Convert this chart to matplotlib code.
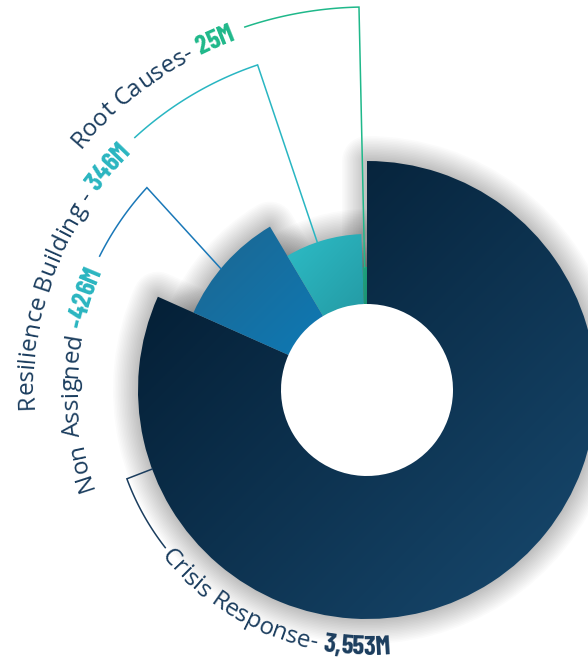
import numpy as np
import matplotlib
matplotlib.use('Agg')
import matplotlib.pyplot as plt
import matplotlib.font_manager as fm
from matplotlib.patches import Wedge, Circle
from matplotlib.colors import LinearSegmentedColormap
from matplotlib.font_manager import FontProperties

# data
categories = ['Crisis Response', 'Non Assigned', 'Resilience Building', 'Root Causes']
values = [3553, 426, 346, 25]
value_prefix = ['', '-', '', '']
name_sep = ['- ', ' ', ' - ', '- ']

# style / layout
outer_r = [229, 190, 156, 123]
inner_r = 86
W, H = 588, 661
cx, cy = 367, H - 390
grad_colors = [('#01182c', '#184a70'), ('#1d6690', '#0e79b4'),
               ('#2dbcc6', '#249aa4'), ('#20a580', '#1a8f70')]
line_colors = ['#1b3d5e', '#1a78b8', '#29b6c2', '#1fb88a']
value_colors = ['#1b3d5e', '#2ab5c0', '#2ab5c0', '#1fb88a']
name_color = '#1b3d5e'
# leader: (angle at segment, angle at elbow, arc radius, arc end angle), angles ccw from top
leaders = [(110.2, 110.3, 256, 128.0),
           (50.3, 47.4, 299, 63.4),
           (18.6, 18.6, 343, 42.6),
           (1.1, 1.2, 383, 18.6)]

name_fp = FontProperties(family='Open Sans', size=17.5)

# condensed bold face for the amounts
barlow = [f for f in fm.fontManager.ttflist
          if f.fname.endswith('BarlowCondensed-Bold.ttf')]
if barlow:
    value_fp = FontProperties(fname=barlow[0].fname, size=19.5)
else:
    value_fp = FontProperties(family='DejaVu Sans', weight='bold', size=14)

fig = plt.figure(figsize=(W / 100, H / 100), dpi=100)
ax = fig.add_axes([0, 0, 1, 1])
renderer = fig.canvas.get_renderer()


def polar(b, r):
    t = np.radians(90 + np.asarray(b))
    return cx + r * np.cos(t), cy + r * np.sin(t)


# angles of the segments, drawn clockwise from 12 o'clock
total = sum(values)
ends = np.cumsum(values) / total * 360
starts = np.concatenate([[0], ends[:-1]])

# soft shadow
for lw in np.linspace(2, 36, 16):
    for i in range(len(values)):
        ax.add_patch(Wedge((cx, cy), outer_r[i], 90 - ends[i], 90 - starts[i],
                           facecolor='none', edgecolor='k', lw=lw, alpha=0.015,
                           joinstyle='round', zorder=1))
ax.add_patch(Circle((cx, cy), inner_r, color='white', zorder=1.5))

for i in range(len(values)):
    w = Wedge((cx, cy), outer_r[i], 90 - ends[i], 90 - starts[i],
              width=outer_r[i] - inner_r, facecolor='none', edgecolor='none', zorder=3)
    ax.add_patch(w)
    ext = w.get_path().get_extents()
    g = np.linspace(0, 1, 200)
    t = (g[None, :] + g[:, None]) / 2
    cmap = LinearSegmentedColormap.from_list('g%d' % i, grad_colors[i])
    im = ax.imshow(t, cmap=cmap, extent=[ext.x0, ext.x1, ext.y0, ext.y1],
                   origin='upper', zorder=3, interpolation='bilinear')
    im.set_clip_path(w)


def text_w(s, fp):
    a = renderer.get_text_width_height_descent('|' + s + '|', fp, ismath=False)[0]
    b = renderer.get_text_width_height_descent('||', fp, ismath=False)[0]
    return a - b


def arc_text(pieces, r_mid, b_anchor, outward):
    em = name_fp.get_size_in_points() * 100 / 72
    chars = []
    off = 0
    for s, fp, col in pieces:
        for k, ch in enumerate(s):
            c = off + (text_w(s[:k], fp) + text_w(s[:k + 1], fp)) / 2
            if ch != ' ':
                chars.append((ch, c, fp, col))
        off += text_w(s, fp)
    if outward:
        rb = r_mid - 0.36 * em
        b0 = b_anchor + np.degrees(off / rb)
    else:
        rb = r_mid + 0.36 * em
        b0 = b_anchor
    for ch, c, fp, col in chars:
        if outward:
            b = b0 - np.degrees(c / rb)
            rot = b
        else:
            b = b0 + np.degrees(c / rb)
            rot = b + 180
        x, y = polar(b, rb)
        ax.text(x, y, ch, fontproperties=fp, color=col, rotation=rot,
                rotation_mode='anchor', ha='center', va='baseline', zorder=5)


for i, cat in enumerate(categories):
    b_seg, b_elb, r_arc, b_end = leaders[i]
    arc_b = np.linspace(b_elb, b_end, 60)
    xs, ys = polar(arc_b, r_arc)
    x0, y0 = polar(b_seg, outer_r[i])
    ax.plot(np.concatenate([[x0], xs]), np.concatenate([[y0], ys]),
            color=line_colors[i], lw=1.1, zorder=4, solid_joinstyle='miter')
    pieces = [(cat + name_sep[i], name_fp, name_color),
              (value_prefix[i] + f'{values[i]:,}M', value_fp, value_colors[i])]
    if b_end > 100:
        arc_text(pieces, r_arc, b_end + np.degrees(4 / r_arc), outward=False)
    else:
        arc_text(pieces, r_arc, b_end + np.degrees(13 / r_arc), outward=True)

ax.set_xlim(0, W)
ax.set_ylim(0, H)
ax.set_aspect('auto')
ax.axis('off')
fig.savefig('out.png', dpi=100, facecolor='white')
